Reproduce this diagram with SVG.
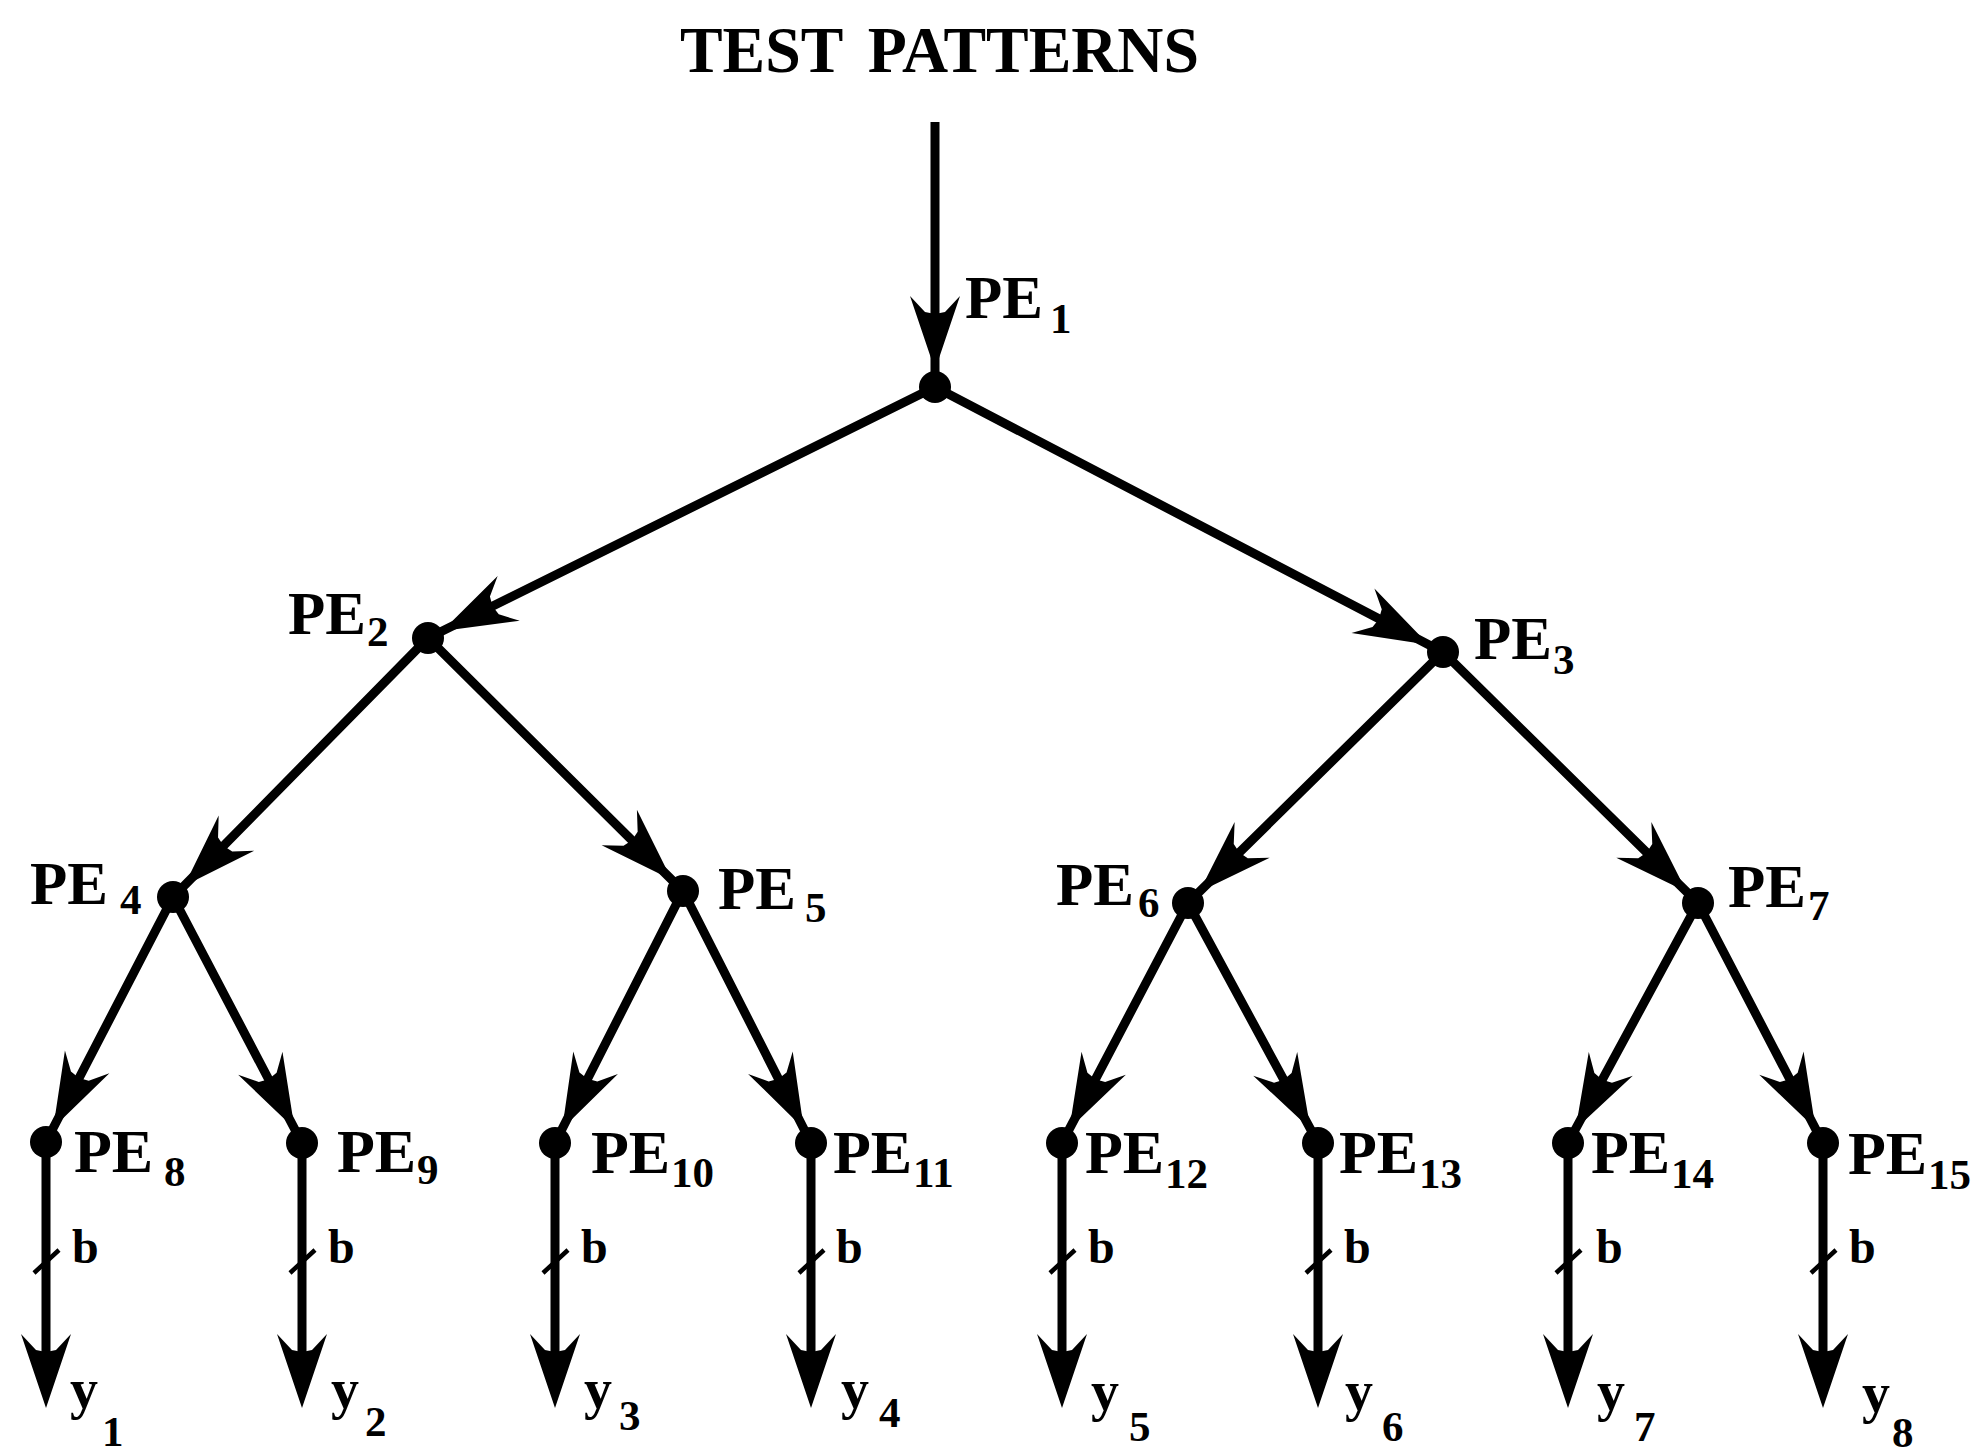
<svg xmlns="http://www.w3.org/2000/svg" width="1975" height="1453" viewBox="0 0 1975 1453">
  <style>
    .t { font-family: "Liberation Serif", "Times New Roman", serif; font-weight: bold; fill: #000; }
    .title { font-size: 66px; word-spacing: 10px; }
    .pe { font-size: 61px; }
    .pel { font-size: 62px; }
    .sub { font-size: 43px; }
    .b { font-size: 48px; }
    .y { font-size: 56px; }
    .edge { fill: none; stroke: #000; stroke-width: 9; stroke-linecap: butt; }
    .tick { fill: none; stroke: #000; stroke-width: 4.5; }
    .dot { fill: #000; }
  </style>
  <defs>
    <!-- barbed arrowhead, tip at the marker origin -->
    <path id="head" d="M0,0 L-74,-25 L-58,-10 L-56,0 L-58,10 L-74,25 Z" fill="#000"/>
    <marker id="arrMid" markerUnits="userSpaceOnUse" viewBox="-80 -30 90 60" markerWidth="90" markerHeight="60" refX="0" refY="0" orient="auto" overflow="visible">
      <use href="#head"/>
    </marker>
    <marker id="arrEnd" markerUnits="userSpaceOnUse" viewBox="-80 -30 90 60" markerWidth="90" markerHeight="60" refX="-33" refY="0" orient="auto" overflow="visible">
      <use href="#head"/>
    </marker>
  </defs>
  <rect width="1975" height="1453" fill="#fff"/>

  <text class="t title" x="680" y="72" textLength="519" lengthAdjust="spacingAndGlyphs">TEST PATTERNS</text>

  <g id="connectors">
    <!-- input -->
    <path class="edge" d="M935,122 L935,370 L935,387" marker-mid="url(#arrMid)"/>
    <!-- level 1 -> 2 -->
    <path class="edge" d="M935,387 L442.3,631 L428,638" marker-mid="url(#arrMid)"/>
    <path class="edge" d="M935,387 L1428.7,644.7 L1443,652" marker-mid="url(#arrMid)"/>
    <!-- level 2 -> 3 -->
    <path class="edge" d="M428,638 L184.3,885.7 L173,897" marker-mid="url(#arrMid)"/>
    <path class="edge" d="M428,638 L671.7,879.7 L683,891" marker-mid="url(#arrMid)"/>
    <path class="edge" d="M1443,652 L1199.4,891.8 L1188,903" marker-mid="url(#arrMid)"/>
    <path class="edge" d="M1443,652 L1686.6,891.8 L1698,903" marker-mid="url(#arrMid)"/>
    <!-- level 3 -> 4 -->
    <path class="edge" d="M173,897 L53.3,1127.7 L46,1142" marker-mid="url(#arrMid)"/>
    <path class="edge" d="M173,897 L294.6,1128.8 L302,1143" marker-mid="url(#arrMid)"/>
    <path class="edge" d="M683,891 L562.2,1128.7 L555,1143" marker-mid="url(#arrMid)"/>
    <path class="edge" d="M683,891 L803.8,1128.7 L811,1143" marker-mid="url(#arrMid)"/>
    <path class="edge" d="M1188,903 L1069.4,1128.8 L1062,1143" marker-mid="url(#arrMid)"/>
    <path class="edge" d="M1188,903 L1310.4,1128.9 L1318,1143" marker-mid="url(#arrMid)"/>
    <path class="edge" d="M1698,903 L1575.6,1128.9 L1568,1143" marker-mid="url(#arrMid)"/>
    <path class="edge" d="M1698,903 L1815.6,1128.8 L1823,1143" marker-mid="url(#arrMid)"/>
    <!-- outputs, b bits wide -->
    <g id="outputs">
      <path class="edge" d="M46,1142 V1375" marker-end="url(#arrEnd)"/>
      <path class="edge" d="M302,1143 V1375" marker-end="url(#arrEnd)"/>
      <path class="edge" d="M555,1143 V1375" marker-end="url(#arrEnd)"/>
      <path class="edge" d="M811,1143 V1375" marker-end="url(#arrEnd)"/>
      <path class="edge" d="M1062,1143 V1375" marker-end="url(#arrEnd)"/>
      <path class="edge" d="M1318,1143 V1375" marker-end="url(#arrEnd)"/>
      <path class="edge" d="M1568,1143 V1375" marker-end="url(#arrEnd)"/>
      <path class="edge" d="M1823,1143 V1375" marker-end="url(#arrEnd)"/>
      <path class="tick" d="M34,1273 L59,1250 M290,1273 L315,1250 M543,1273 L568,1250 M799,1273 L824,1250 M1050,1273 L1075,1250 M1306,1273 L1331,1250 M1556,1273 L1581,1250 M1811,1273 L1836,1250"/>
      <text class="t b" x="72" y="1263">b</text>
      <text class="t b" x="328" y="1263">b</text>
      <text class="t b" x="581" y="1263">b</text>
      <text class="t b" x="836" y="1263">b</text>
      <text class="t b" x="1088" y="1263">b</text>
      <text class="t b" x="1344" y="1263">b</text>
      <text class="t b" x="1596" y="1263">b</text>
      <text class="t b" x="1849" y="1263">b</text>
    </g>
  </g>

  <g id="pe1"><circle class="dot" cx="935" cy="387" r="16"/>
    <text class="t pe" x="965" y="318">PE<tspan class="sub" x="1050" y="333">1</tspan></text></g>
  <g id="pe2"><circle class="dot" cx="428" cy="638" r="16"/>
    <text class="t pe" x="288" y="634">PE<tspan class="sub" x="367" y="646">2</tspan></text></g>
  <g id="pe3"><circle class="dot" cx="1443" cy="652" r="16"/>
    <text class="t pe" x="1474" y="659">PE<tspan class="sub" x="1553" y="674">3</tspan></text></g>
  <g id="pe4"><circle class="dot" cx="173" cy="897" r="16"/>
    <text class="t pe" x="30" y="904">PE<tspan class="sub" x="120" y="914">4</tspan></text></g>
  <g id="pe5"><circle class="dot" cx="683" cy="891" r="16"/>
    <text class="t pe" x="718" y="909">PE<tspan class="sub" x="805" y="922">5</tspan></text></g>
  <g id="pe6"><circle class="dot" cx="1188" cy="903" r="16"/>
    <text class="t pe" x="1056" y="905">PE<tspan class="sub" x="1138" y="917">6</tspan></text></g>
  <g id="pe7"><circle class="dot" cx="1698" cy="903" r="16"/>
    <text class="t pe" x="1728" y="907">PE<tspan class="sub" x="1808" y="920">7</tspan></text></g>

  <g id="pe8"><circle class="dot" cx="46" cy="1142" r="16"/>
    <text class="t pel" x="74" y="1172">PE<tspan class="sub" x="164" y="1186">8</tspan></text></g>
  <g id="pe9"><circle class="dot" cx="302" cy="1143" r="16"/>
    <text class="t pel" x="337" y="1172">PE<tspan class="sub" x="417" y="1184">9</tspan></text></g>
  <g id="pe10"><circle class="dot" cx="555" cy="1143" r="16"/>
    <text class="t pel" x="591" y="1173">PE<tspan class="sub" x="671" y="1187">10</tspan></text></g>
  <g id="pe11"><circle class="dot" cx="811" cy="1143" r="16"/>
    <text class="t pel" x="833" y="1173">PE<tspan class="sub" x="913" y="1187">11</tspan></text></g>
  <g id="pe12"><circle class="dot" cx="1062" cy="1143" r="16"/>
    <text class="t pel" x="1085" y="1173">PE<tspan class="sub" x="1165" y="1188">12</tspan></text></g>
  <g id="pe13"><circle class="dot" cx="1318" cy="1143" r="16"/>
    <text class="t pel" x="1339" y="1173">PE<tspan class="sub" x="1419" y="1188">13</tspan></text></g>
  <g id="pe14"><circle class="dot" cx="1568" cy="1143" r="16"/>
    <text class="t pel" x="1591" y="1173">PE<tspan class="sub" x="1671" y="1188">14</tspan></text></g>
  <g id="pe15"><circle class="dot" cx="1823" cy="1143" r="16"/>
    <text class="t pel" x="1848" y="1174">PE<tspan class="sub" x="1928" y="1189">15</tspan></text></g>

  <g id="output-labels">
    <text class="t y" x="70" y="1408">y<tspan class="sub" x="102" y="1446">1</tspan></text>
    <text class="t y" x="331" y="1408">y<tspan class="sub" x="365" y="1436">2</tspan></text>
    <text class="t y" x="584" y="1408">y<tspan class="sub" x="619" y="1430">3</tspan></text>
    <text class="t y" x="841" y="1408">y<tspan class="sub" x="879" y="1427">4</tspan></text>
    <text class="t y" x="1091" y="1410">y<tspan class="sub" x="1129" y="1441">5</tspan></text>
    <text class="t y" x="1345" y="1410">y<tspan class="sub" x="1382" y="1441">6</tspan></text>
    <text class="t y" x="1597" y="1410">y<tspan class="sub" x="1634" y="1441">7</tspan></text>
    <text class="t y" x="1862" y="1412">y<tspan class="sub" x="1892" y="1447">8</tspan></text>
  </g>
</svg>
